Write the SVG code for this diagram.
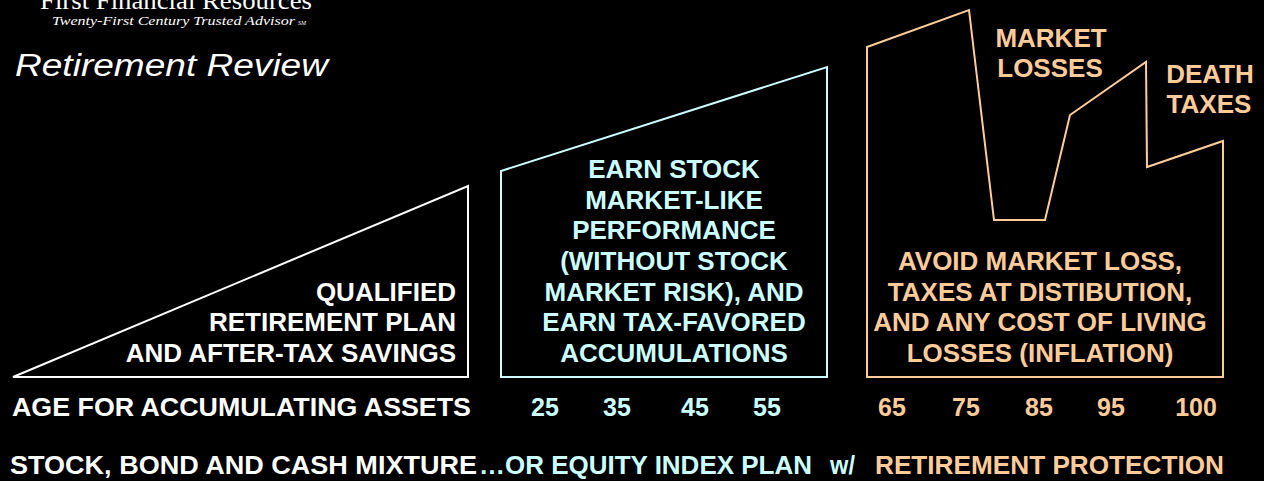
<svg xmlns="http://www.w3.org/2000/svg" width="1264" height="481" viewBox="0 0 1264 481">
<style>
.b{font-family:"Liberation Sans",Arial,sans-serif;font-weight:bold;font-size:26px}
.s{font-size:25px}
.w{fill:#ffffff}.c{fill:#ccffff}.o{fill:#ffcc99}
.shape{fill:none;stroke-width:2;stroke-linejoin:miter}
</style>
<rect x="0" y="0" width="1264" height="481" fill="#000000"/>
<g id="header">
<text x="176" y="9" text-anchor="middle" font-family="'Liberation Serif',serif" font-size="25" fill="#ffffff" textLength="272" lengthAdjust="spacingAndGlyphs">First Financial Resources</text>
<text x="52" y="25" font-family="'Liberation Serif',serif" font-style="italic" font-size="13" fill="#ffffff" textLength="243" lengthAdjust="spacingAndGlyphs">Twenty-First Century Trusted Advisor</text>
<text x="298" y="25" font-family="'Liberation Serif',serif" font-style="italic" font-size="6" fill="#ffffff">SM</text>
<text x="15" y="76" font-family="'Liberation Sans',Arial,sans-serif" font-style="italic" font-size="31" fill="#ffffff" textLength="313" lengthAdjust="spacingAndGlyphs">Retirement Review</text>
</g>
<g id="accumulate">
<polygon class="shape" stroke="#ffffff" points="13,377 468,186 468,377"/>
<text class="b w" text-anchor="end" x="456"><tspan x="456" y="300.7">QUALIFIED</tspan><tspan x="456" y="331.3">RETIREMENT PLAN</tspan><tspan x="456" y="362">AND AFTER-TAX SAVINGS</tspan></text>
</g>
<g id="equity">
<polygon class="shape" stroke="#ccffff" points="501,377 501,171 827,67 827,377"/>
<text class="b c" text-anchor="middle"><tspan x="674" y="178">EARN STOCK</tspan><tspan x="674" y="208.7">MARKET-LIKE</tspan><tspan x="674" y="239.3">PERFORMANCE</tspan><tspan x="674" y="270">(WITHOUT STOCK</tspan><tspan x="674" y="300.7">MARKET RISK), AND</tspan><tspan x="674" y="331.3">EARN TAX-FAVORED</tspan><tspan x="674" y="362">ACCUMULATIONS</tspan></text>
</g>
<g id="protection">
<polygon class="shape" stroke="#ffcc99" points="867,377 867,47 969,10 994,220 1045,220 1070,115 1146,62 1147,167 1223,141 1223,377"/>
<text class="b o" text-anchor="middle"><tspan x="1051" y="47">MARKET</tspan><tspan x="1050" y="77">LOSSES</tspan></text>
<text class="b o" text-anchor="middle"><tspan x="1210" y="83">DEATH</tspan><tspan x="1209" y="113">TAXES</tspan></text>
<text class="b o" text-anchor="middle"><tspan x="1040" y="270">AVOID MARKET LOSS,</tspan><tspan x="1040" y="300.7">TAXES AT DISTIBUTION,</tspan><tspan x="1040" y="331.3">AND ANY COST OF LIVING</tspan><tspan x="1040" y="362">LOSSES (INFLATION)</tspan></text>
</g>
<g id="ages">
<text class="b s w" x="12" y="416" textLength="459" lengthAdjust="spacingAndGlyphs">AGE FOR ACCUMULATING ASSETS</text>
<g class="b s c" text-anchor="middle">
<text x="545" y="416">25</text><text x="617" y="416">35</text><text x="695" y="416">45</text><text x="767" y="416">55</text>
</g>
<g class="b s o" text-anchor="middle">
<text x="892" y="416">65</text><text x="966" y="416">75</text><text x="1039" y="416">85</text><text x="1111" y="416">95</text><text x="1196" y="416">100</text>
</g>
</g>
<g id="mixture">
<text class="b s w" x="10" y="474" textLength="467" lengthAdjust="spacingAndGlyphs">STOCK, BOND AND CASH MIXTURE</text>
<text class="b s c" x="479" y="474" textLength="333" lengthAdjust="spacingAndGlyphs">…OR EQUITY INDEX PLAN</text>
<text class="b s c" x="830" y="474" textLength="25" lengthAdjust="spacingAndGlyphs">w/</text>
<text class="b s o" x="875" y="474" textLength="349" lengthAdjust="spacingAndGlyphs">RETIREMENT PROTECTION</text>
</g>
</svg>
